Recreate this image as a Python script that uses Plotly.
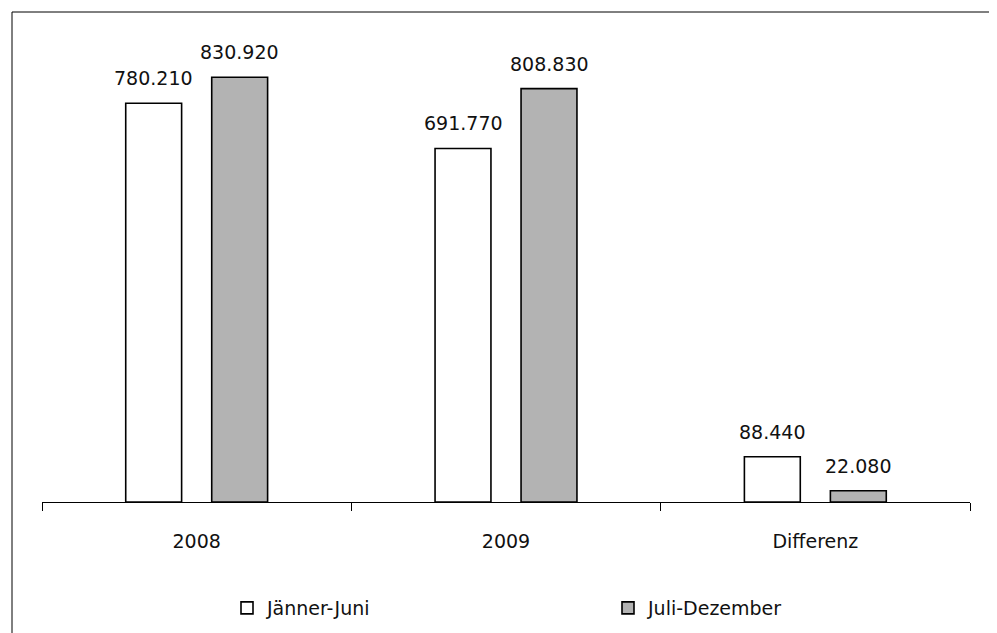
import plotly.graph_objects as go

categories = ["2008", "2009", "Differenz"]
series_names = ["Jänner-Juni", "Juli-Dezember"]
jaenner_juni = [780210, 691770, 88440]
juli_dezember = [830920, 808830, 22080]

FONT = "DejaVu Sans"
FS = 19
W, H = 997, 633
OFF = 8  # page body margin

fig = go.Figure()
fig.add_trace(go.Bar(
    x=categories, y=jaenner_juni, name=series_names[0],
    marker=dict(color="white", line=dict(color="black", width=1.6)),
))
fig.add_trace(go.Bar(
    x=categories, y=juli_dezember, name=series_names[1],
    marker=dict(color="#B3B3B3", line=dict(color="black", width=1.6)),
))

annotations = []
for vals, shift in ((jaenner_juni, -43), (juli_dezember, 43)):
    for i, v in enumerate(vals):
        annotations.append(dict(
            x=i, y=v, xref="x", yref="y", text=f"{v:,}".replace(",", "."),
            showarrow=False, xanchor="center", yanchor="bottom",
            xshift=shift, yshift=12,
            font=dict(family=FONT, size=FS, color="#111"),
        ))

left, right, top, axis_y = 42 - OFF, 970 - OFF, 42 - OFF, 502 - OFF
pw, ph = right - left, axis_y - top

fig.update_layout(
    width=W, height=H,
    margin=dict(l=left, r=W - right, t=top, b=H - axis_y),
    paper_bgcolor="white", plot_bgcolor="white",
    barmode="group", bargap=0.444, bargroupgap=0.35,
    font=dict(family=FONT, size=FS, color="#111"),
    showlegend=True,
    legend=dict(
        orientation="h", xref="container", yref="container",
        x=(227 - OFF) / W, y=1 - (608 - OFF) / H, xanchor="left", yanchor="middle",
        entrywidth=336, entrywidthmode="pixels",
        font=dict(family=FONT, size=FS, color="#111"),
        bgcolor="rgba(0,0,0,0)", traceorder="normal",
    ),
    annotations=annotations,
    shapes=[dict(
        type="rect", xref="paper", yref="paper",
        x0=((12 - OFF) - left) / pw, x1=1.2, y0=-0.6, y1=(axis_y - (12 - OFF)) / ph,
        line=dict(color="black", width=1), fillcolor="rgba(0,0,0,0)", layer="below",
    )],
)
fig.update_xaxes(
    type="category", range=[-0.5, 2.5], tickson="boundaries",
    showline=True, linecolor="black", linewidth=1,
    ticks="outside", ticklen=8, tickcolor="black", tickwidth=1,
    showgrid=False, zeroline=False, ticklabelstandoff=22,
    tickfont=dict(family=FONT, size=FS, color="#111"),
)
fig.update_yaxes(visible=False, range=[0, 900000], showgrid=False, zeroline=False)

fig.write_html("out.html")
